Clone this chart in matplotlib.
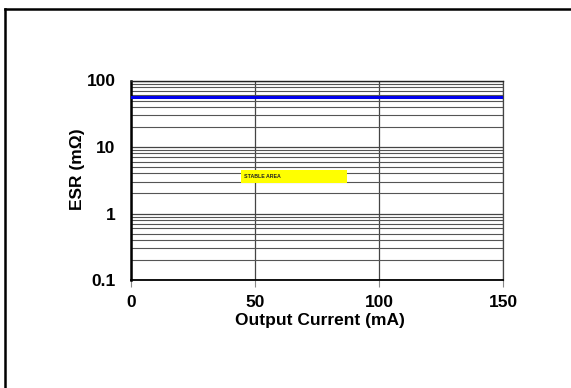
import matplotlib
matplotlib.use("Agg")
import matplotlib.pyplot as plt
from matplotlib.lines import Line2D
import numpy as np

# Data
current_ma = [0, 150]
esr_mohm = [56, 56]
stable_x = [44.4, 87.1]
stable_y = [2.9, 4.5]
x_ticks = [0, 50, 100, 150]
y_ticks = [0.1, 1, 10, 100]
y_ticklabels = ["0.1", "1", "10", "100"]

plt.rcParams['font.family'] = ['Liberation Sans', 'DejaVu Sans']
plt.rcParams['font.weight'] = 'bold'

fig = plt.figure(figsize=(5.71, 3.88), dpi=100)
W, H = 571, 388
ax = fig.add_axes([131 / W, 1 - 280 / H, (503 - 131) / W, (280 - 80.5) / H])

ax.set_yscale('log')
ax.set_xlim(0, 150)
ax.set_ylim(0.1, 100)

# grid
ax.set_xticks(x_ticks)
ax.set_yticks(y_ticks)
ax.set_yticklabels(y_ticklabels)
ax.yaxis.set_minor_locator(matplotlib.ticker.LogLocator(base=10, subs=np.arange(2, 10)))
ax.yaxis.set_minor_formatter(matplotlib.ticker.NullFormatter())
ax.grid(True, which='major', axis='both', color='#444444', linewidth=0.9)
ax.grid(True, which='minor', axis='y', color='#555555', linewidth=0.8)
ax.set_axisbelow(True)

# stable area
ax.fill_between(stable_x, stable_y[0], stable_y[1], color='#ffff00', zorder=2, linewidth=0)
ax.text(stable_x[0] + 1.0, np.sqrt(stable_y[0] * stable_y[1]), "STABLE AREA",
        fontsize=3.8, fontweight='bold', color='#222222', va='center', ha='left', zorder=3)

# ESR line
ax.plot(current_ma, esr_mohm, color='#0000ee', linewidth=2.2, zorder=4)

ax.spines['left'].set_linewidth(1.8)
ax.spines['left'].set_color('black')
ax.spines['bottom'].set_linewidth(1.3)
ax.spines['bottom'].set_color('black')
ax.spines['top'].set_linewidth(1.0)
ax.spines['top'].set_color('#222222')
ax.spines['right'].set_linewidth(0.9)
ax.spines['right'].set_color('#444444')

ax.tick_params(axis='x', which='major', length=5, color='#888888', pad=5.8,
               labelsize=12.5, direction='out')
ax.tick_params(axis='y', which='both', length=0, pad=11, labelsize=12.5)
for lbl in ax.get_xticklabels() + ax.get_yticklabels():
    lbl.set_fontweight('bold')

fig.text(319.6 / W, 1 - 320.7 / H, "Output Current (mA)", fontsize=12.5, fontweight='bold',
         ha='center', va='center')
fig.text(78 / W, 1 - 169.5 / H, "ESR (m\u03a9)", fontsize=12.5, fontweight='bold',
         ha='center', va='center', rotation=90)

# figure border (left and top only)
fig.add_artist(Line2D([5 / W, 5 / W], [0, 1 - 8.5 / H], transform=fig.transFigure,
                      color='black', linewidth=1.8))
fig.add_artist(Line2D([5 / W, 1], [1 - 8.5 / H, 1 - 8.5 / H], transform=fig.transFigure,
                      color='black', linewidth=1.8))

fig.savefig("out.png", dpi=100)
